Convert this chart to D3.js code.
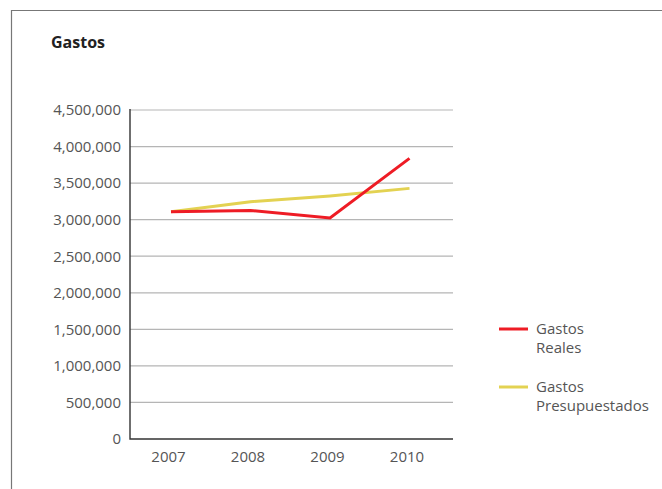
<!DOCTYPE html>
<html>
<head>
<meta charset="utf-8">
<script src="https://cdn.jsdelivr.net/npm/d3@7/dist/d3.min.js"></script>
<style>
  body { margin: 0; background: #fff; }
  text { font-family: "Open Sans", sans-serif; }
</style>
</head>
<body>
<div id="chart"></div>
<script>
const years = ["2007", "2008", "2009", "2010"];
const gastosReales = [3108000, 3125000, 3022000, 3838000];
const gastosPresupuestados = [3108000, 3245000, 3325000, 3428000];
const yTicks = [0, 500000, 1000000, 1500000, 2000000, 2500000, 3000000, 3500000, 4000000, 4500000];
const seriesNames = [["Gastos", "Reales"], ["Gastos", "Presupuestados"]];
const seriesColors = ["#ee1c25", "#e3d252"];

const width = 662, height = 489;
const plotLeft = 130, plotRight = 453, plotTop = 110, plotBottom = 439;

const svg = d3.select("#chart").append("svg")
    .attr("width", width)
    .attr("height", height);

// frame
svg.append("path")
    .attr("d", `M11.5,${height} V10.5 H${width}`)
    .attr("fill", "none")
    .attr("stroke", "#777")
    .attr("stroke-width", 1.2);

svg.append("text")
    .attr("x", 51).attr("y", 48)
    .attr("font-size", 16).attr("font-weight", "bold")
    .attr("fill", "#222")
    .text("Gastos");

const x = d3.scalePoint().domain(years).range([171, 409.5]);
const y = d3.scaleLinear().domain([0, 4500000]).range([plotBottom, plotTop]);

// gridlines
svg.append("g").selectAll("line")
    .data(yTicks.filter(d => d > 0))
    .join("line")
    .attr("x1", plotLeft).attr("x2", plotRight)
    .attr("y1", d => y(d)).attr("y2", d => y(d))
    .attr("stroke", "#b5b5b5").attr("stroke-width", 1.2);

// y axis labels
const yAxis = svg.append("g")
    .attr("transform", `translate(${plotLeft},0)`)
    .call(d3.axisLeft(y).tickValues(yTicks).tickFormat(d3.format(",")).tickSize(0).tickPadding(9));
yAxis.select(".domain").remove();
yAxis.selectAll("text")
    .attr("font-size", 15).attr("fill", "#555")
    .style("font-family", "'Open Sans', sans-serif");

// x axis labels
const xAxis = svg.append("g")
    .attr("transform", `translate(0,${plotBottom})`)
    .call(d3.axisBottom(x).tickSize(0).tickPadding(12));
xAxis.select(".domain").remove();
xAxis.selectAll("text")
    .attr("font-size", 15).attr("fill", "#555")
    .attr("dx", -3)
    .style("font-family", "'Open Sans', sans-serif");

// axis lines
svg.append("path")
    .attr("d", `M${plotLeft},${plotTop - 1} V${plotBottom} H${plotRight}`)
    .attr("fill", "none")
    .attr("stroke", "#333")
    .attr("stroke-width", 1.4);

const line = d3.line().x((d, i) => x(years[i])).y(d => y(d));

[gastosPresupuestados, gastosReales].forEach(vals => {
    const i = vals === gastosReales ? 0 : 1;
    svg.append("path")
        .datum(vals)
        .attr("d", line)
        .attr("fill", "none")
        .attr("stroke", seriesColors[i])
        .attr("stroke-width", 3);
});

// legend
const legend = svg.append("g");
const legendY = [329, 387];
seriesNames.forEach((names, i) => {
    legend.append("line")
        .attr("x1", 499).attr("x2", 528)
        .attr("y1", legendY[i]).attr("y2", legendY[i])
        .attr("stroke", seriesColors[i]).attr("stroke-width", 3);
    names.forEach((t, j) => {
        legend.append("text")
            .attr("x", 536).attr("y", legendY[i] + 5 + j * 19)
            .attr("font-size", 15).attr("fill", "#555")
            .text(t);
    });
});
</script>
</body>
</html>
